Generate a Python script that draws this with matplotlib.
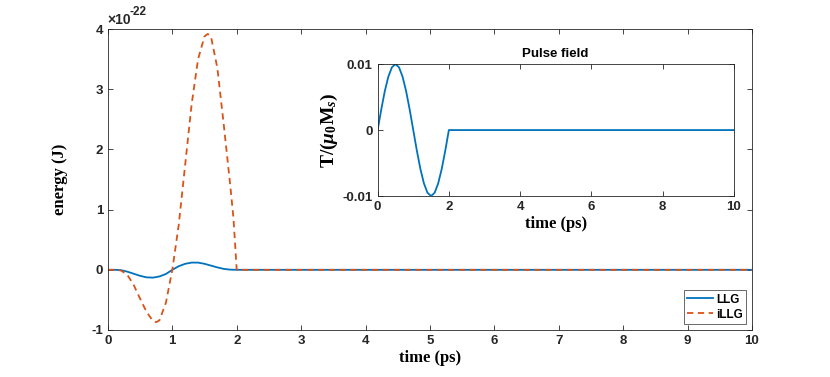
import matplotlib
matplotlib.use("Agg")
import matplotlib.pyplot as plt

plt.rcParams['font.family'] = ['Liberation Sans', 'DejaVu Sans']
plt.rcParams['font.weight'] = 'bold'
plt.rcParams['axes.unicode_minus'] = False
plt.rcParams['mathtext.fontset'] = 'custom'
plt.rcParams['mathtext.rm'] = 'Liberation Serif:bold'
plt.rcParams['mathtext.it'] = 'Liberation Serif:italic:bold'
plt.rcParams['mathtext.bf'] = 'Liberation Serif:bold'

# energy curves, values in units of 1e-22 J
t_llg = [0, 0.1, 0.2, 0.3, 0.4, 0.5, 0.6, 0.7, 0.8, 0.9, 1.0, 1.1, 1.2, 1.3, 1.4,
         1.5, 1.6, 1.7, 1.8, 1.9, 2.0, 10]
e_llg = [0, 0, -0.005, -0.03, -0.065, -0.10, -0.125, -0.13, -0.11, -0.07, 0, 0.06,
         0.10, 0.12, 0.12, 0.10, 0.07, 0.04, 0.015, 0.003, 0, 0]

t_illg = [0, 0.1, 0.2, 0.3, 0.4, 0.5, 0.6, 0.7, 0.75, 0.8, 0.9, 1.0, 1.1, 1.2, 1.3,
          1.4, 1.5, 1.55, 1.6, 1.7, 1.8, 1.9, 1.95, 2.0, 10]
e_illg = [0, 0, -0.01, -0.08, -0.25, -0.48, -0.70, -0.85, -0.87, -0.84, -0.55, 0,
          0.75, 1.75, 2.75, 3.5, 3.88, 3.92, 3.88, 3.35, 2.4, 1.4, 0.85, 0, 0]

# pulse field
t_pulse = [0, 0.1, 0.2, 0.3, 0.4, 0.5, 0.6, 0.7, 0.8, 0.9, 1.0, 1.1, 1.2, 1.3, 1.4,
           1.5, 1.6, 1.7, 1.8, 1.9, 2.0, 10]
b_pulse = [0, 0.00309, 0.00588, 0.00809, 0.00951, 0.01, 0.00951, 0.00809, 0.00588,
           0.00309, 0, -0.00309, -0.00588, -0.00809, -0.00951, -0.01, -0.00951,
           -0.00809, -0.00588, -0.00309, 0, 0]

blue = '#0072BD'
orange = '#D95319'
axcol = '#262626'
serif = {'family': 'Liberation Serif', 'weight': 'bold', 'size': 12}


def style(ax):
    ax.tick_params(direction='in', top=True, right=True, labelsize=9.5,
                   colors=axcol, length=3.5, width=0.6)
    for s in ax.spines.values():
        s.set_color(axcol)
        s.set_linewidth(0.6)
    for lab in ax.get_xticklabels() + ax.get_yticklabels():
        lab.set_fontweight('bold')


fig = plt.figure(figsize=(8.3, 3.77), dpi=100)

ax = fig.add_axes([0.130, 0.1247, 0.776, 0.798])
ax.plot(t_llg, e_llg, color=blue, lw=1.3, label='LLG')
ax.plot(t_illg, e_illg, color=orange, lw=1.3, ls=(0, (3.5, 2.5)), label='iLLG')
ax.set_xlim(0, 10)
ax.set_ylim(-1, 4)
ax.set_xticks(range(0, 11))
ax.set_yticks(range(-1, 5))
style(ax)
ax.set_xlabel('time (ps)', fontdict=serif, labelpad=2)
ax.set_ylabel('energy (J)', fontdict=serif, labelpad=17)
ax.text(0.0, 1.008, '\u00d710', transform=ax.transAxes,
        fontsize=10, fontweight='bold', color=axcol, va='bottom')
ax.text(0.033, 1.038, '-22', transform=ax.transAxes,
        fontsize=8.5, fontweight='bold', color=axcol, va='bottom')
leg = ax.legend(loc='lower right', fontsize=8.5, frameon=True, fancybox=False,
                borderpad=0.3, handlelength=2.2, handletextpad=0.2,
                labelspacing=0.25, borderaxespad=0.5)
leg.get_frame().set_edgecolor(axcol)
leg.get_frame().set_linewidth(0.6)
for txt in leg.get_texts():
    txt.set_fontweight('bold')

ins = fig.add_axes([0.455, 0.480, 0.429, 0.350])
ins.plot(t_pulse, b_pulse, color=blue, lw=1.3)
ins.set_xlim(0, 10)
ins.set_ylim(-0.01, 0.01)
ins.set_xticks([0, 2, 4, 6, 8, 10])
ins.set_yticks([-0.01, 0, 0.01])
ins.set_yticklabels(['-0.01', '0', '0.01'])
style(ins)
ins.set_title('Pulse field', fontsize=9.5, fontweight='bold', pad=5)
ins.set_xlabel('time (ps)', fontdict=serif, labelpad=2)
ins.set_ylabel(r'T/($\mu_{0}$M$_{s}$)', family='Liberation Serif',
               fontweight='bold', fontsize=14, labelpad=2)

fig.savefig('out.png', dpi=100)
